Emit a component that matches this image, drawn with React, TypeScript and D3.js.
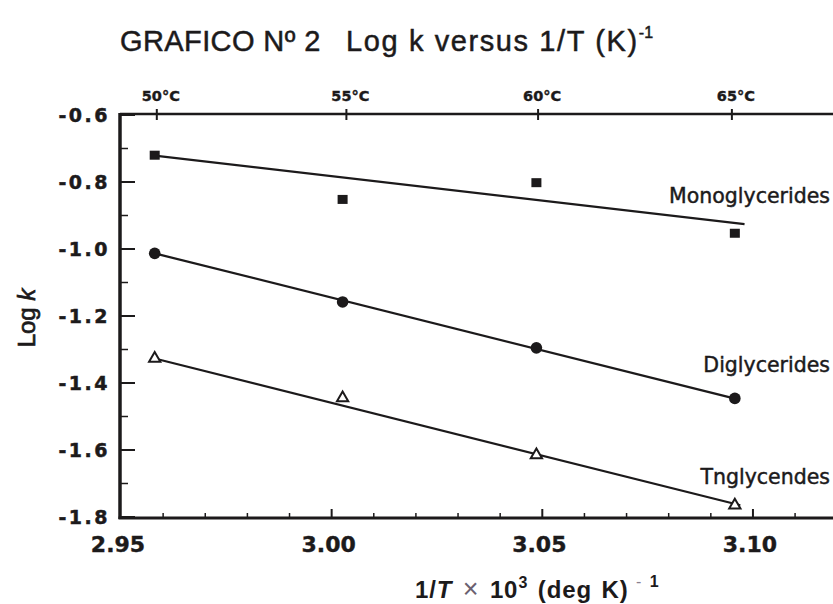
import React from 'react';
import * as d3 from 'd3';

// values
const pointX = [2.958, 3.0026, 3.0486, 3.0957];
const monoValues = [-0.72, -0.852, -0.802, -0.953];
const diValues = [-1.013, -1.158, -1.295, -1.446];
const triValues = [-1.327, -1.445, -1.615, -1.765];

// fitted straight lines (end points)
const monoFitX = [2.958, 3.098];
const monoFit = [-0.721, -0.926];
const diFitX = [2.958, 3.0955];
const diFit = [-1.013, -1.446];
const triFitX = [2.958, 3.097];
const triFit = [-1.327, -1.765];

const xTicks = [2.95, 3.0, 3.05, 3.1];
const xTickLabels = ['2.95', '3.00', '3.05', '3.10'];
const yTicks = [-0.6, -0.8, -1.0, -1.2, -1.4, -1.6, -1.8];
const yTickLabels = ['-0.6', '-0.8', '-1.0', '-1.2', '-1.4', '-1.6', '-1.8'];
const tempTicks = [2.9585, 3.0035, 3.049, 3.095];
const tempLabels = ['50°C', '55°C', '60°C', '65°C'];

const seriesNames = ['Monoglycerides', 'Diglycerides', 'Tnglycendes'];

const W = 833;
const H = 604;
const ink = '#1c1a1b';

const App = () => {
  const x = d3.scaleLinear().domain([2.95, 3.119]).range([121, 833]);
  const y = d3.scaleLinear().domain([-0.6, -1.8]).range([115, 517]);

  const left = x(2.95) - 1;
  const top = y(-0.6) - 1;
  const bottom = y(-1.8) + 1;

  const xMinor = d3.range(2.96, 3.115, 0.01).filter(v => !xTicks.some(t => Math.abs(t - v) < 1e-6));
  const yMinor = d3.range(-0.7, -1.75, -0.2);

  const line = d3.line<[number, number]>().x(d => x(d[0])).y(d => y(d[1]));
  const fits = [
    { xs: monoFitX, ys: monoFit },
    { xs: diFitX, ys: diFit },
    { xs: triFitX, ys: triFit },
  ];

  const tri = d3.symbol().type(d3.symbolTriangle).size(55)();

  const labelY = [203, 372, 484];

  return (
    <div style={{ position: 'absolute', left: 0, top: 0 }}>
      <svg width={W} height={H} style={{ display: 'block', background: '#fff' }}>
        {/* title */}
        <text x={120} y={51} fontFamily="Liberation Sans, Arial" fontSize={29} letterSpacing={0.4} fill={ink} stroke={ink} strokeWidth={0.5} xmlSpace="preserve">
          {'GRAFICO Nº 2   '}
          <tspan letterSpacing={1.6}>{'Log k versus 1/T (K)'}</tspan>
          <tspan fontSize={16} dy={-13}>-1</tspan>
        </text>

        {/* top axis with temperature ticks */}
        <line x1={left} x2={W} y1={top} y2={top} stroke={ink} strokeWidth={2.5} />
        {tempTicks.map((t, i) => (
          <g key={'tt' + i}>
            <line x1={x(t)} x2={x(t)} y1={top - 5} y2={top + 6} stroke={ink} strokeWidth={2} />
            <text x={x(t) + 4} y={101} textAnchor="middle" fontFamily="DejaVu Sans" fontWeight="bold" fontSize={14.5} fill={ink} stroke={ink} strokeWidth={0.4}>
              {tempLabels[i]}
            </text>
          </g>
        ))}

        {/* left axis */}
        <line x1={left} x2={left} y1={top - 1} y2={bottom + 1} stroke={ink} strokeWidth={3.5} />
        {yTicks.map((t, i) => (
          <g key={'yt' + i}>
            <line x1={left} x2={left + 15} y1={y(t)} y2={y(t)} stroke={ink} strokeWidth={2} />
            <text x={110} y={y(t) + 7} textAnchor="end" fontFamily="DejaVu Sans" fontWeight="bold" fontSize={19} letterSpacing={2.5} fill={ink} stroke={ink} strokeWidth={0.5}>
              {yTickLabels[i]}
            </text>
          </g>
        ))}
        {yMinor.map((t, i) => (
          <line key={'ym' + i} x1={left} x2={left + 8} y1={y(t)} y2={y(t)} stroke={ink} strokeWidth={1.5} />
        ))}

        {/* bottom axis */}
        <line x1={left - 1.5} x2={W} y1={bottom} y2={bottom} stroke={ink} strokeWidth={3} />
        {xTicks.slice(1).map((t, i) => (
          <line key={'xt' + i} x1={x(t)} x2={x(t)} y1={bottom - 9} y2={bottom} stroke={ink} strokeWidth={2} />
        ))}
        {xMinor.map((t, i) => (
          <line key={'xm' + i} x1={x(t)} x2={x(t)} y1={bottom - 5} y2={bottom} stroke={ink} strokeWidth={1.5} />
        ))}
        {xTicks.map((t, i) => (
          <text key={'xl' + i} x={x(t) - 3} y={552} textAnchor="middle" fontFamily="DejaVu Sans" fontWeight="bold" fontSize={22} fill={ink} stroke={ink} strokeWidth={0.4}>
            {xTickLabels[i]}
          </text>
        ))}

        {/* axis titles */}
        <text x={415} y={598} fontFamily="Liberation Sans, Arial" fontWeight="bold" fontSize={24} letterSpacing={0.9} wordSpacing={2} fill={ink} xmlSpace="preserve">
          1/<tspan fontStyle="italic">T</tspan>
          <tspan fontWeight="normal" fontSize={27} fill="#6b6070">{' × '}</tspan>
          10<tspan fontSize={16} dy={-10}>3</tspan>
          <tspan dy={10}>{' (deg K)'}</tspan>
          <tspan fontSize={16} dy={-11} fontWeight="normal" fill="#8a8090">{' - '}</tspan>
          <tspan fontSize={16}>1</tspan>
        </text>
        <text transform="translate(35,318) rotate(-90)" textAnchor="middle" fontFamily="Liberation Sans, Arial" fontSize={24} fill={ink} stroke={ink} strokeWidth={0.7}>
          Log <tspan fontStyle="italic">k</tspan>
        </text>

        {/* fitted lines */}
        {fits.map((f, i) => (
          <path key={'f' + i} d={line(f.xs.map((v, j) => [v, f.ys[j]] as [number, number])) || ''} stroke={ink} strokeWidth={2.2} fill="none" />
        ))}

        {/* points */}
        {monoValues.map((v, i) => (
          <rect key={'m' + i} x={x(pointX[i]) - 5} y={y(v) - 4.5} width={10} height={9} fill={ink} />
        ))}
        {diValues.map((v, i) => (
          <circle key={'d' + i} cx={x(pointX[i])} cy={y(v)} r={5.8} fill={ink} />
        ))}
        {triValues.map((v, i) => (
          <path key={'t' + i} d={tri || ''} transform={`translate(${x(pointX[i])},${y(v)})`} fill="#fff" stroke={ink} strokeWidth={2} />
        ))}

        {/* series labels */}
        {seriesNames.map((s, i) => (
          <text key={s} x={830} y={labelY[i]} textAnchor="end" fontFamily="DejaVu Sans" fontSize={20.5} fill={ink} stroke={ink} strokeWidth={0.45}>
            {s}
          </text>
        ))}
      </svg>
    </div>
  );
};

export default App;
